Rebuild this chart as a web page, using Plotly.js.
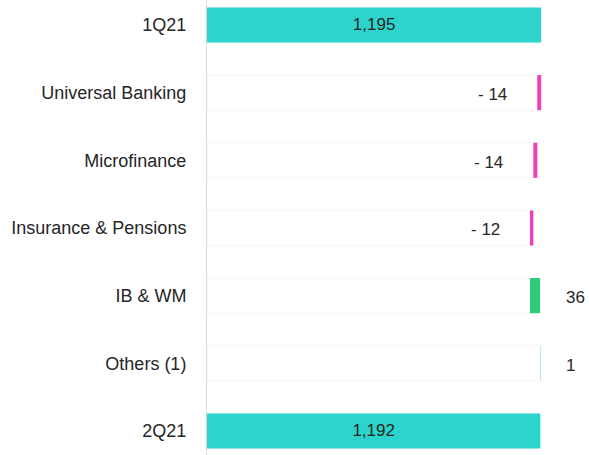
<!DOCTYPE html>
<html>
<head>
<meta charset="utf-8">
<script src="https://cdn.plot.ly/plotly-3.0.1.min.js"></script>
<style>html,body{margin:0;padding:0;background:#fff;}#chart{width:589px;height:455px;}</style>
</head>
<body>
<div id="chart"></div>
<script>
const categories = ['1Q21', 'Universal Banking', 'Microfinance', 'Insurance & Pensions', 'IB & WM', 'Others (1)', '2Q21'];
const values = [1195, -14, -14, -12, 36, 1, 1192];
const measures = ['absolute', 'relative', 'relative', 'relative', 'relative', 'relative', 'total'];
const valueLabels = ['1,195', '- 14', '- 14', '- 12', '36', '1', '1,192'];

const TEAL = '#2dd4cb', PINK = '#f23dba', GREEN = '#2dcc7a';

let running = 0;
const bases = [], lens = [], ghost = [], colors = [], barText = [];
const annotations = [];
values.forEach((v, i) => {
  if (measures[i] === 'relative') {
    const start = running, end = running + v;
    bases.push(start); lens.push(v);
    ghost.push(Math.min(start, end));
    colors.push(v < 0 ? PINK : GREEN);
    barText.push('');
    annotations.push({
      x: end, y: categories[i], xref: 'x', yref: 'y',
      text: valueLabels[i], showarrow: false,
      xanchor: v < 0 ? 'right' : 'left', xshift: v < 0 ? -28 : 24, yshift: -2,
      font: {size: 17, color: '#262626', family: 'Liberation Sans, Arial, sans-serif'}
    });
    running = end;
  } else {
    running = v;
    bases.push(0); lens.push(v);
    ghost.push(null);
    colors.push(TEAL);
    barText.push(valueLabels[i]);
  }
});

const traces = [
  {
    type: 'bar', orientation: 'h', y: categories, x: ghost, base: 0,
    marker: {color: 'rgba(0,0,0,0)', line: {color: '#f6f6f6', width: 1}},
    width: 0.52, hoverinfo: 'skip', showlegend: false
  },
  {
    type: 'bar', orientation: 'h', y: categories, x: lens, base: bases,
    marker: {color: colors, line: {width: 0}},
    width: 0.52,
    text: barText, textposition: 'inside', insidetextanchor: 'middle',
    textangle: 0,
    textfont: {size: 17, color: '#262626', family: 'Liberation Sans, Arial, sans-serif'},
    hoverinfo: 'skip', showlegend: false
  }
];

const layout = {
  width: 589, height: 455,
  margin: {l: 207, r: 0, t: 0, b: 0},
  paper_bgcolor: '#fff', plot_bgcolor: '#fff',
  barmode: 'overlay',
  font: {family: 'Liberation Sans, Arial, sans-serif', size: 17, color: '#262626'},
  xaxis: {range: [0, 1366], showgrid: false, zeroline: false, showticklabels: false, showline: false},
  yaxis: {
    type: 'category', range: [6.355, -0.369],
    showgrid: false, zeroline: false,
    showline: true, linecolor: '#d9d9d9', linewidth: 1,
    ticks: 'outside', ticklen: 16, tickcolor: 'rgba(0,0,0,0)',
    tickfont: {size: 18, color: '#262626'}
  },
  annotations: annotations
};

Plotly.newPlot('chart', traces, layout, {staticPlot: true, displayModeBar: false});
</script>
</body>
</html>
